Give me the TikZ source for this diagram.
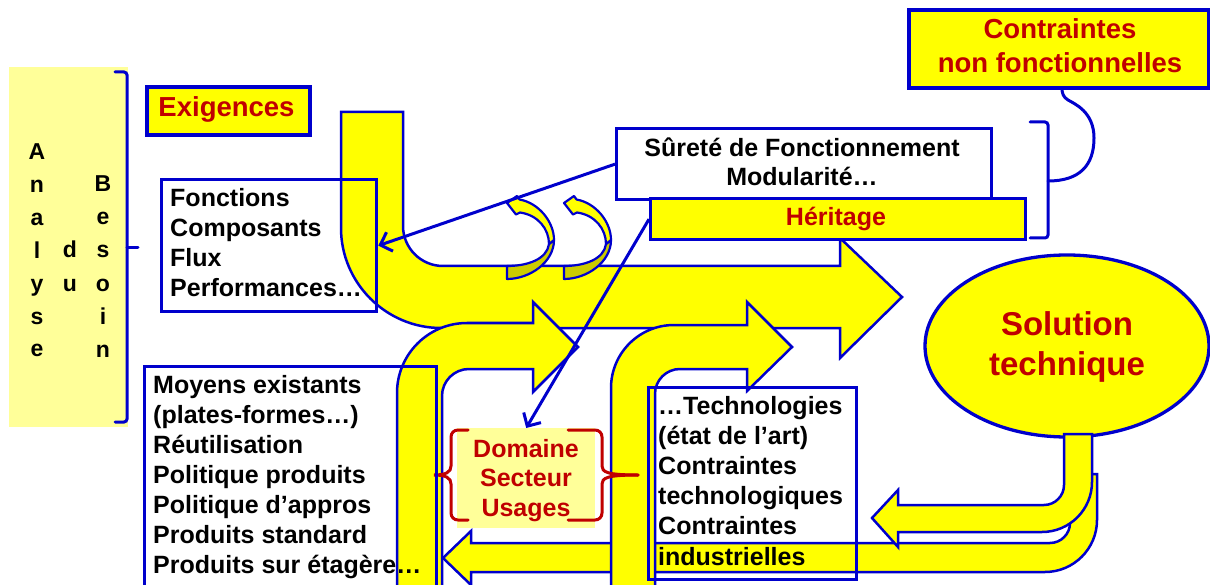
\documentclass[tikz,border=0pt]{standalone}
\usepackage{fontspec}
\setmainfont{Liberation Sans}
\usetikzlibrary{arrows.meta,shapes.geometric}
\definecolor{ayellow}{HTML}{FFFF00}
\definecolor{ablue}{HTML}{0000CC}
\definecolor{ared}{HTML}{C00000}
\definecolor{lyellow}{HTML}{FFFF99}
\definecolor{aolive}{HTML}{CCCC00}
\begin{document}
\begin{tikzpicture}[x=1pt,y=-1pt,
  bigarrow/.style={fill=ayellow,draw=ablue,line width=2.5pt,line join=miter},
  boxline/.style={draw=ablue,line width=3.3pt,inner sep=0pt,anchor=north west},
  brk/.style={draw=ablue,line width=3pt,line cap=round},
  rbrk/.style={draw=ared,line width=3pt,line cap=round},
  linetxt/.style={font=\bfseries\fontsize{25}{30}\selectfont,inner sep=0pt,anchor=base west},
  ctrtxt/.style={font=\bfseries\fontsize{25}{30}\selectfont,inner sep=0pt,anchor=base},
  redtxt/.style={ctrtxt,text=ared},
  lettxt/.style={font=\bfseries\fontsize{23}{28}\selectfont,inner sep=0pt,anchor=base},
  connector/.style={draw=ablue,line width=3pt,-{Straight Barb[length=10pt,width=20pt]}}]
\useasboundingbox (0,0) rectangle (1210,585);

% Analyse du Besoin
\node[fill=lyellow,inner sep=0pt,anchor=north west,minimum width=119pt,minimum height=360pt] (analyse) at (9,67) {};
\foreach \l [count=\i from 0] in {A,n,a,l,y,s,e}
  \node[lettxt] (an\i) at (37,160+32.8*\i) {\l};
\foreach \l [count=\i from 0] in {B,e,s,o,i,n}
  \node[lettxt] (be\i) at (103,192+33*\i) {\l};
\node[lettxt] (du0) at (70,258) {d};
\node[lettxt] (du1) at (70,291) {u};
\draw[brk,rounded corners=3pt] (115,72) -- (127,72) -- (127,422) -- (115,422);
\draw[brk] (127,248) -- (138,248);

% big arrow 1 (top)
\path[bigarrow] (341,112) -- (403,112) -- (403,226) .. controls (403,248) and (421,266) .. (443,266)
  -- (840,266) -- (840,238) -- (902,297) -- (840,358) -- (840,328) -- (441,328)
  .. controls (386,328) and (341,283) .. (341,228) -- cycle;

% small curved arrows
\foreach \dx in {0,57}{
\begin{scope}[xshift=\dx pt]
\path[fill=aolive,draw=ablue,line width=2.2pt,line join=round]
  (554,240) .. controls (554,262) and (530,279) .. (507,279) -- (507,266)
  .. controls (528,266) and (547,259) .. (549,244) -- cycle;
\path[fill=ayellow,draw=ablue,line width=2.2pt,line join=round]
  (507,203) -- (517,196) -- (519.5,199.5) .. controls (539,203) and (554,222) .. (554,240)
  -- (549,244) .. controls (549,229) and (538,215) .. (520,212.5) -- (516,214.5) -- cycle;
\end{scope}}

% big arrow 2
\path[bigarrow] (397,600) -- (397,393) .. controls (397,354.3) and (428.3,323) .. (467,323)
  -- (533,323) -- (533,302) -- (578,347) -- (533,392) -- (533,369) -- (469,369)
  .. controls (454.1,369) and (442,381.1) .. (442,396) -- (442,600) -- cycle;

% big arrow 5 (bottom, pointing left)
\path[bigarrow] (1070,474) -- (1097,474) -- (1097,520) .. controls (1097,548.7) and (1073.7,572) .. (1045,572)
  -- (471,572) -- (471,585) -- (443,558) -- (471,531) -- (471,543) -- (1050,543)
  .. controls (1061,543) and (1070,534) .. (1070,523) -- cycle;

% big arrow 3
\path[bigarrow] (611,600) -- (611,388) .. controls (611,353.2) and (639.2,325) .. (674,325)
  -- (747,325) -- (747,302) -- (792,347) -- (747,391) -- (747,369) -- (680,369)
  .. controls (666.2,369) and (655,380.2) .. (655,394) -- (655,600) -- cycle;

% Solution technique
\node[ellipse,draw=ablue,fill=ayellow,line width=3.3pt,minimum width=284pt,minimum height=182pt,inner sep=0pt] (sol) at (1067,346) {};
\node[redtxt,font=\bfseries\fontsize{33}{40}\selectfont] (sol1) at (1067,335) {Solution};
\node[redtxt,font=\bfseries\fontsize{33}{40}\selectfont] (sol2) at (1067,375) {technique};

% big arrow 4 (from solution)
\path[bigarrow] (1064,434) -- (1092,434) -- (1092,482) .. controls (1092,509.6) and (1069.6,532) .. (1042,532)
  -- (898,532) -- (898,547) -- (872,518) -- (898,490) -- (898,505) -- (1044,505)
  .. controls (1055,505) and (1064,496) .. (1064,485) -- cycle;

% Domaine
\node[fill=lyellow,inner sep=0pt,anchor=north west,minimum width=138pt,minimum height=100pt] (domaine) at (457,428) {};
\node[redtxt] (dom1) at (526,457) {Domaine};
\node[redtxt] (dom2) at (526,486.5) {Secteur};
\node[redtxt] (dom3) at (526,516) {Usages};
\draw[rbrk] (468,430) -- (458,430) .. controls (454,430) and (451,433) .. (451,437) -- (451,466)
  .. controls (451,472) and (446,475) .. (434,475)
  .. controls (446,475) and (451,478) .. (451,484) -- (451,513)
  .. controls (451,517) and (454,520) .. (458,520) -- (468,520);
\draw[rbrk] (568,430) -- (595,430) .. controls (599,430) and (602,433) .. (602,437) -- (602,466)
  .. controls (602,472) and (607,475) .. (638,475);
\draw[rbrk] (638,475) .. controls (607,475) and (602,478) .. (602,484) -- (602,513)
  .. controls (602,517) and (599,520) .. (595,520) -- (568,520);

% text boxes
\node[boxline,minimum width=215pt,minimum height=132pt] (fonctions) at (160,178) {};
\foreach \t [count=\i from 0] in {Fonctions,Composants,Flux,Performances…}
  \node[linetxt] (fo\i) at (170,207+30*\i) {\t};

\node[boxline,minimum width=292pt,minimum height=240pt] (moyens) at (143,365) {};
\foreach \t [count=\i from 0] in {Moyens existants,(plates-formes…),Réutilisation,Politique produits,Politique d’appros,Produits standard,Produits sur étagère…}
  \node[linetxt] (mo\i) at (153,393+30*\i) {\t};

\node[boxline,minimum width=208pt,minimum height=192pt] (techno) at (647,386) {};
\foreach \t [count=\i from 0] in {…Technologies,(état de l’art),Contraintes,technologiques,Contraintes,industrielles}
  \node[linetxt] (te\i) at (658,414+30.2*\i) {\t};

\node[boxline,fill=white,minimum width=375pt,minimum height=71pt] (surete) at (615,127) {};
\node[ctrtxt] (su1) at (802,157) {Sûreté de Fonctionnement};
\node[ctrtxt] (su2) at (802,186) {Modularité…};

\node[boxline,fill=ayellow,minimum width=375pt,minimum height=41pt] (heritage) at (649,197) {};
\node[redtxt] (her) at (836,226) {Héritage};

\node[boxline,fill=ayellow,line width=4pt,minimum width=163pt,minimum height=48pt] (exig) at (145,85) {};
\node[redtxt,font=\bfseries\fontsize{27.5}{33}\selectfont] (exigt) at (226.5,117) {Exigences};

\node[boxline,fill=ayellow,line width=4pt,minimum width=300pt,minimum height=78pt] (contr) at (907,8) {};
\node[redtxt,font=\bfseries\fontsize{27.5}{33}\selectfont] (contr1) at (1060,39) {Contraintes};
\node[redtxt,font=\bfseries\fontsize{27.5}{33}\selectfont] (contr2) at (1060,73) {non fonctionnelles};

% right bracket
\draw[brk,rounded corners=3pt] (1030,122) -- (1048,122) -- (1048,238) -- (1030,238);
\draw[brk] (1048,181) .. controls (1080,181) and (1094,165) .. (1094,138)
  .. controls (1094,112) and (1075,104) .. (1068,100) .. controls (1063,97) and (1062,93) .. (1062,88);

% connectors
\draw[connector] (surete.west) -- (fonctions.east);
\draw[connector] (heritage.west) -- (domaine.north);
\end{tikzpicture}
\end{document}
